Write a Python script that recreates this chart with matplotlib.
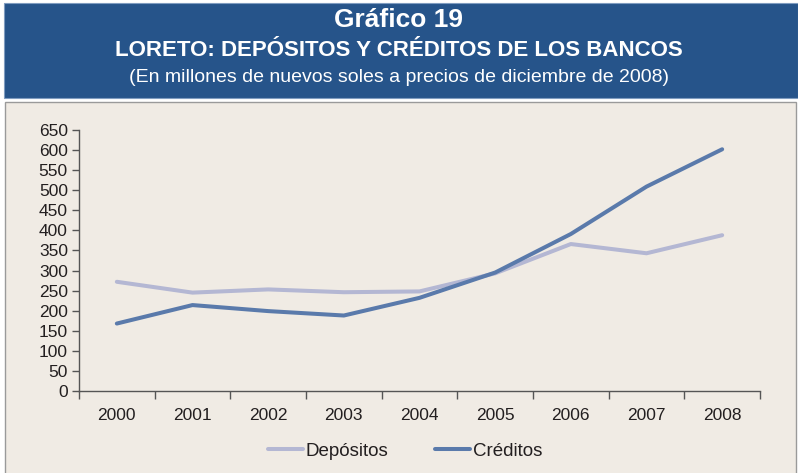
import matplotlib
matplotlib.use("Agg")
import matplotlib.pyplot as plt
from matplotlib.patches import Rectangle

years = ["2000", "2001", "2002", "2003", "2004", "2005", "2006", "2007", "2008"]
depositos = [272, 245, 253, 246, 248, 293, 366, 343, 388]
creditos = [168, 214, 199, 188, 232, 295, 391, 509, 602]
yticks = list(range(0, 651, 50))

W, H = 798, 473
fig = plt.figure(figsize=(W / 100, H / 100), dpi=100)
fig.patch.set_facecolor("white")
plt.rcParams["font.family"] = ["Liberation Sans", "DejaVu Sans"]

def fx(px):
    return px / W

def fy(py):
    return 1 - py / H

# title band
fig.patches.append(Rectangle((fx(4), fy(98)), fx(794), (95) / H, transform=fig.transFigure,
                             facecolor="#26548a", edgecolor="#7f9cc0", lw=0.8, zorder=-10))
# chart panel
fig.patches.append(Rectangle((fx(5), fy(475)), fx(791), (373) / H, transform=fig.transFigure,
                             facecolor="#f0ebe4", edgecolor="#9a9a9a", lw=1.0, zorder=-10))

fig.text(0.5, fy(20), "Gráfico 19", ha="center", va="center", color="white",
         fontsize=19, fontweight="bold")
fig.text(0.5, fy(50), "LORETO: DEPÓSITOS Y CRÉDITOS DE LOS BANCOS", ha="center", va="center",
         color="white", fontsize=16, fontweight="bold")
fig.text(0.5, fy(77), "(En millones de nuevos soles a precios de diciembre de 2008)", ha="center",
         va="center", color="white", fontsize=14)

left, right, bottom, top = 79, 760, 391, 130
ax = fig.add_axes([fx(left), fy(bottom), fx(right - left), (bottom - top) / H])
ax.set_facecolor("none")
x = list(range(len(years)))
ax.plot(x, depositos, color="#b4b7d3", lw=2.9, solid_capstyle="round", label="Depósitos")
ax.plot(x, creditos, color="#5a7aab", lw=2.9, solid_capstyle="round", label="Créditos")

ax.set_xlim(-0.5, len(years) - 0.5)
ax.set_ylim(0, 650)
ax.set_yticks(yticks)
ax.set_xticks(x)
ax.set_xticklabels(years)
ax.set_xticks([i - 0.5 for i in range(len(years) + 1)], minor=True)
ax.tick_params(axis="x", which="major", length=0, pad=12, labelsize=12.5, labelcolor="#231f20")
ax.tick_params(axis="x", which="minor", length=6, width=1, color="#555555", direction="out")
ax.tick_params(axis="y", which="major", length=5, width=1, color="#555555", pad=3,
               labelsize=12.5, labelcolor="#231f20")
for s in ["top", "right"]:
    ax.spines[s].set_visible(False)
for s in ["left", "bottom"]:
    ax.spines[s].set_color("#555555")
    ax.spines[s].set_linewidth(1)

leg = fig.legend(loc="center", bbox_to_anchor=(fx(405), fy(451)), ncol=2, frameon=False,
                 fontsize=13.5, handlelength=1.9, handletextpad=0.15, columnspacing=2.45)
for t in leg.get_texts():
    t.set_color("#231f20")

fig.savefig("out.png", dpi=100)
